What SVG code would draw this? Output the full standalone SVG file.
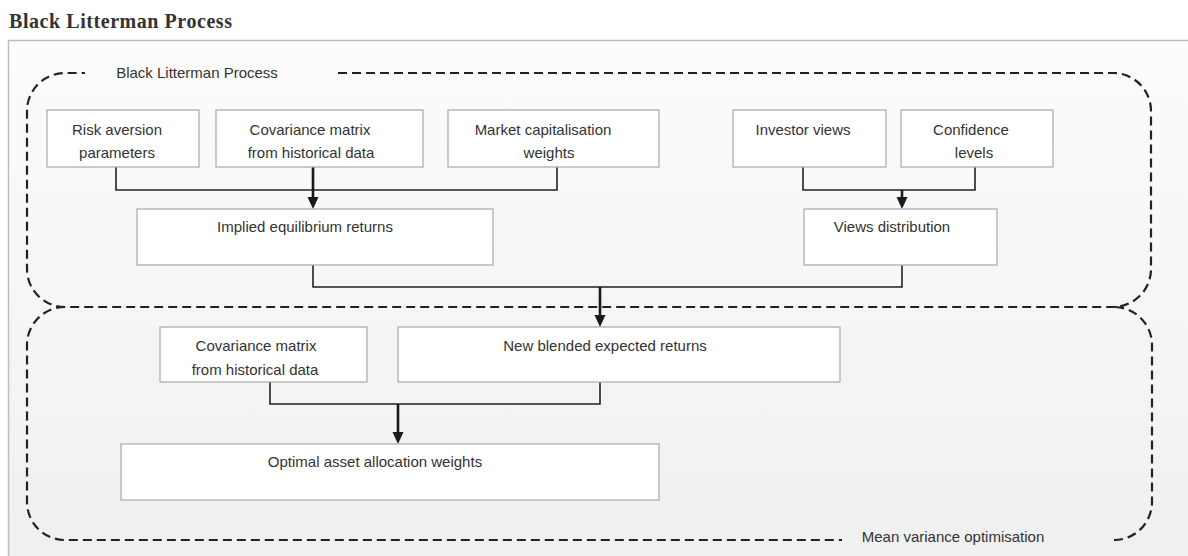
<svg xmlns="http://www.w3.org/2000/svg" width="1188" height="556" viewBox="0 0 1188 556">
<defs>
<linearGradient id="bg" x1="0" y1="0" x2="0" y2="1">
<stop offset="0" stop-color="#fcfcfc"/>
<stop offset="1" stop-color="#efefef"/>
</linearGradient>
<marker id="arr" markerUnits="userSpaceOnUse" markerWidth="12" markerHeight="12" viewBox="0 0 12 12" refX="8" refY="6" orient="auto">
<path d="M0,0.5 L12,6 L0,11.5 z" fill="#1a1a1a"/>
</marker>
<style>
.box{fill:#fff;stroke:#a8a8a8;stroke-width:1.2}
.t{font-family:"Liberation Sans",Arial,sans-serif;font-size:15px;fill:#333;text-anchor:middle}
.dash{fill:none;stroke:#222;stroke-width:2.2;stroke-dasharray:9 5}
.ln{fill:none;stroke:#222;stroke-width:1.6}
.stem{fill:none;stroke:#1a1a1a;stroke-width:2.6;marker-end:url(#arr)}
</style>
</defs>
<rect x="0" y="0" width="1188" height="556" fill="#fff"/>
<text x="9" y="28" font-family="'Liberation Serif','Times New Roman',serif" font-weight="bold" font-size="20" fill="#333" textLength="223">Black Litterman Process</text>
<rect x="8.5" y="40.5" width="1200" height="540" fill="url(#bg)" stroke="#bdbdbd" stroke-width="1.5"/>

<g id="groups">
<path class="dash" d="M338,73 L1113,73 A38,38 0 0 1 1151,111 L1151,269 A38,38 0 0 1 1113,307 L65,307 A38,38 0 0 1 27,269 L27,111 A38,38 0 0 1 65,73 L85,73"/>
<text class="t" x="197" y="78">Black Litterman Process</text>
<path class="dash" d="M1114,540 A38,38 0 0 0 1152,502 L1152,345 A38,38 0 0 0 1114,307"/>
<path class="dash" d="M65,307 A38,38 0 0 0 27,345 L27,502 A38,38 0 0 0 65,540 L842,540"/>
<text class="t" x="953" y="542">Mean variance optimisation</text>
</g>

<g id="connectors">
<path class="ln" d="M116,167 V190 H557 V167"/>
<path class="stem" d="M313,167 V205"/>
<path class="ln" d="M803,167 V190 H975 V167"/>
<path class="stem" d="M902,190 V205"/>
<path class="ln" d="M313,265 V287 H902 V265"/>
<path class="stem" d="M600,287 V323"/>
<path class="ln" d="M270,382 V404 H600 V382"/>
<path class="stem" d="M398,404 V440"/>
</g>

<g id="n-risk"><rect class="box" x="47" y="110" width="152" height="57"/>
<text class="t" x="117" y="135">Risk aversion</text><text class="t" x="117" y="158">parameters</text></g>
<g id="n-cov1"><rect class="box" x="216" y="110" width="207" height="57"/>
<text class="t" x="310" y="135">Covariance matrix</text><text class="t" x="311" y="158">from historical data</text></g>
<g id="n-mcap"><rect class="box" x="448" y="110" width="211" height="57"/>
<text class="t" x="543" y="135">Market capitalisation</text><text class="t" x="549" y="158">weights</text></g>
<g id="n-views"><rect class="box" x="733" y="110" width="153" height="57"/>
<text class="t" x="803" y="135">Investor views</text></g>
<g id="n-conf"><rect class="box" x="901" y="110" width="152" height="57"/>
<text class="t" x="971" y="135">Confidence</text><text class="t" x="974" y="158">levels</text></g>
<g id="n-implied"><rect class="box" x="137" y="209" width="356" height="56"/>
<text class="t" x="305" y="232">Implied equilibrium returns</text></g>
<g id="n-vdist"><rect class="box" x="804" y="209" width="193" height="56"/>
<text class="t" x="892" y="232">Views distribution</text></g>
<g id="n-cov2"><rect class="box" x="160" y="327" width="207" height="55"/>
<text class="t" x="256" y="351">Covariance matrix</text><text class="t" x="255" y="375">from historical data</text></g>
<g id="n-blend"><rect class="box" x="398" y="327" width="442" height="55"/>
<text class="t" x="605" y="351">New blended expected returns</text></g>
<g id="n-opt"><rect class="box" x="121" y="444" width="538" height="56"/>
<text class="t" x="375" y="467">Optimal asset allocation weights</text></g>
</svg>
